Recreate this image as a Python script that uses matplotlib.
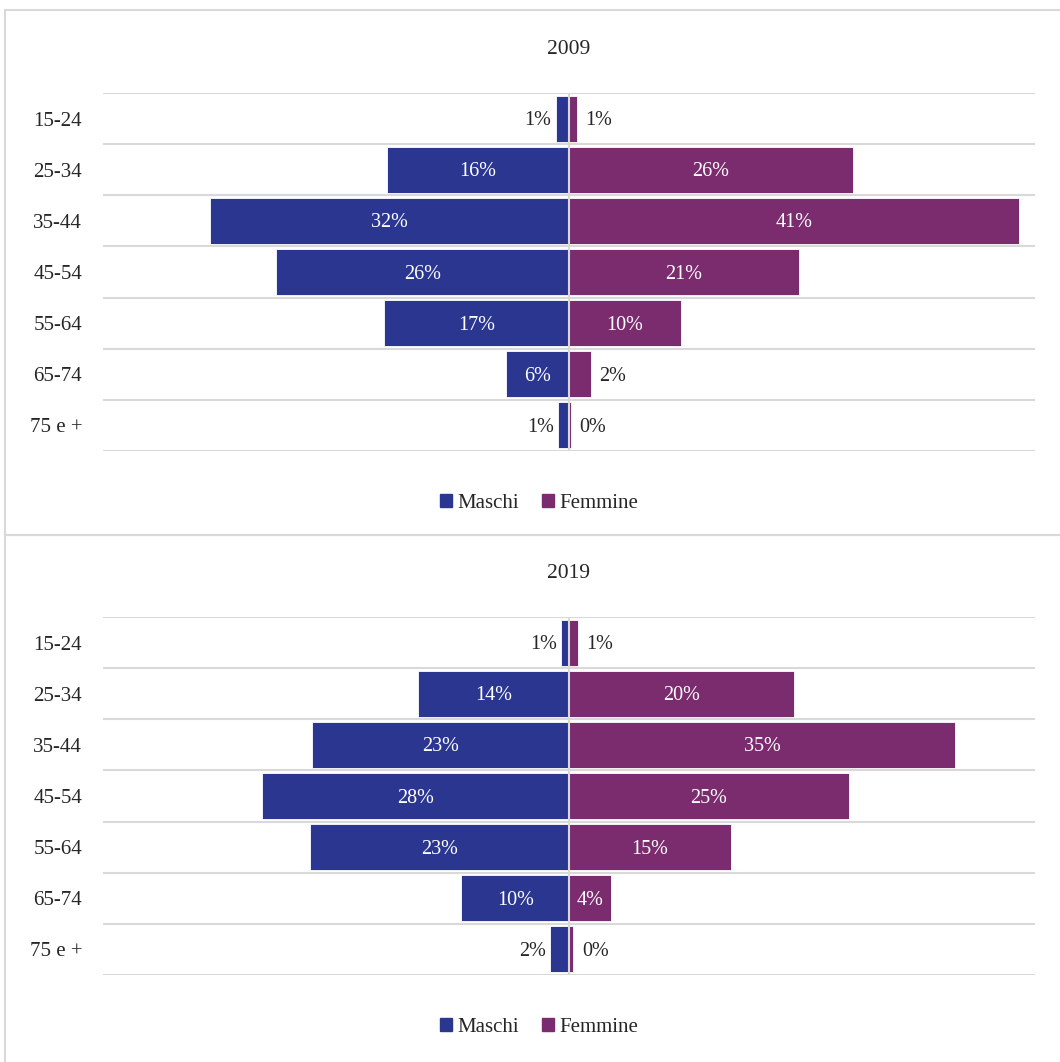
import matplotlib
matplotlib.use("Agg")
import matplotlib.pyplot as plt
from matplotlib.patches import Rectangle, Patch
import numpy as np

plt.rcParams['font.family'] = ['Liberation Serif', 'DejaVu Serif']

# age groups (top to bottom)
ages = ["15-24", "25-34", "35-44", "45-54", "55-64", "65-74", "75 e +"]
years = ["2009", "2019"]

# share of workers per age group, percent
maschi_2009 = [1.2, 16.4, 32.4, 26.4, 16.7, 5.7, 1.0]
femmine_2009 = [0.7, 25.6, 40.6, 20.7, 10.1, 2.0, 0.2]
maschi_2019 = [0.7, 13.6, 23.2, 27.7, 23.3, 9.7, 1.7]
femmine_2019 = [0.8, 20.3, 34.8, 25.2, 14.6, 3.8, 0.4]

BLUE = "#2B3691"
PURPLE = "#7A2C6E"
GRID = "#D9D9D9"
TEXT = "#262626"

W, H = 1060, 1062
fig = plt.figure(figsize=(W / 100, H / 100), dpi=100)

# chart frames
for top, bottom in [(10, 535), (535, 1075)]:
    fig.patches.append(Rectangle((5 / W, 1 - bottom / H), 1.2, (bottom - top) / H,
                                 transform=fig.transFigure, fill=False,
                                 edgecolor=GRID, lw=1.5))

panels = [(years[0], maschi_2009, femmine_2009, 93, 451),
          (years[1], maschi_2019, femmine_2019, 617, 975)]

for year, maschi, femmine, y0, y1 in panels:
    ax = fig.add_axes([103 / W, 1 - y1 / H, 932 / W, (y1 - y0) / H])
    pos = np.arange(len(ages))
    ax.barh(pos, [-m for m in maschi], height=0.9, color=BLUE,
            edgecolor="white", lw=0.6, label="Maschi", zorder=3)
    ax.barh(pos, femmine, height=0.9, color=PURPLE,
            edgecolor="white", lw=0.6, label="Femmine", zorder=3)
    ax.set_xlim(-42, 42)
    ax.set_ylim(len(ages) - 0.5, -0.5)
    ax.set_yticks(pos)
    ax.set_yticklabels(ages, fontsize=15, color=TEXT)
    ax.set_yticks(np.arange(len(ages) + 1) - 0.5, minor=True)
    ax.tick_params(axis="y", which="both", length=0, pad=15)
    ax.grid(axis="y", which="minor", color=GRID, lw=1.5, zorder=0)
    ax.set_xticks([])
    ax.axvline(0, color=GRID, lw=1.5, zorder=4)
    for s in ax.spines.values():
        s.set_visible(False)

    for i, (m, f) in enumerate(zip(maschi, femmine)):
        if m >= 3.5:
            ax.annotate(f"{round(m)}%", (-m / 2, i), xytext=(0, -1.5),
                        textcoords="offset points", ha="center", va="center",
                        color="white", fontsize=14.5, zorder=5)
        else:
            ax.annotate(f"{round(m)}%", (-m, i), xytext=(-3, -1.5),
                        textcoords="offset points", ha="right", va="center",
                        color=TEXT, fontsize=14.5)
        if f >= 3.5:
            ax.annotate(f"{round(f)}%", (f / 2, i), xytext=(0, -1.5),
                        textcoords="offset points", ha="center", va="center",
                        color="white", fontsize=14.5, zorder=5)
        else:
            ax.annotate(f"{round(f)}%", (f, i), xytext=(6, -1.5),
                        textcoords="offset points", ha="left", va="center",
                        color=TEXT, fontsize=14.5)

    fig.text(569 / W, 1 - (y0 - 46) / H, year, ha="center",
             va="center_baseline", fontsize=15.5, color=TEXT)
    handles = [Patch(color=BLUE), Patch(color=PURPLE)]
    fig.legend(handles, ["Maschi", "Femmine"], loc="center",
               bbox_to_anchor=(539 / W, 1 - (y1 + 52) / H), ncol=2,
               frameon=False, fontsize=15, handlelength=0.6, handleheight=0.6,
               handletextpad=0.25, columnspacing=1.1, labelcolor=TEXT)

fig.savefig("out.png", dpi=100)
